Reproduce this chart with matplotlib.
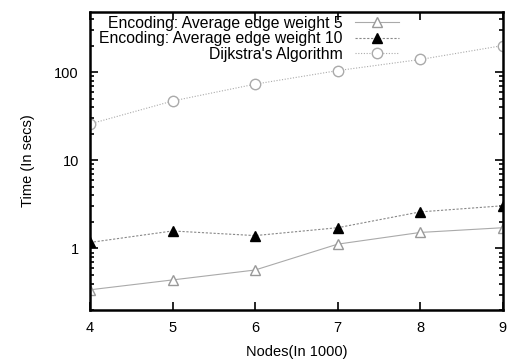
import numpy as np
import matplotlib
matplotlib.use('Agg')
import matplotlib.pyplot as plt
from matplotlib.ticker import LogLocator, NullFormatter, FixedLocator

plt.rcParams['font.family'] = ['Liberation Sans', 'DejaVu Sans']

nodes = [4, 5, 6, 7, 8, 9]
enc_w5 = [0.34, 0.44, 0.57, 1.12, 1.52, 1.72]
enc_w10 = [1.17, 1.58, 1.40, 1.72, 2.60, 3.05]
dijkstra = [25.8, 47.0, 73.0, 104.0, 139.0, 200.0]

labels = ['Encoding: Average edge weight 5',
          'Encoding: Average edge weight 10',
          "Dijkstra's Algorithm"]

fig = plt.figure(figsize=(5.11, 3.64), dpi=100)
ax = fig.add_axes([0.176, 0.148, 0.808, 0.819])

ax.plot(nodes, enc_w5, color='#aaaaaa', lw=0.8, ls='-', marker='^',
        mfc='white', mec='#999999', ms=6.5, label=labels[0])
ax.plot(nodes, enc_w10, color='#888888', lw=0.8, ls=(0, (2, 1.5)), marker='^',
        mfc='black', mec='black', ms=6.5, label=labels[1])
ax.plot(nodes, dijkstra, color='#aaaaaa', lw=0.8, ls=(0, (1, 1.5)), marker='o',
        mfc='white', mec='#aaaaaa', ms=7.5, label=labels[2])

ax.set_yscale('log')
ax.set_xlim(4, 9)
ax.set_ylim(0.2, 480)
ax.yaxis.set_major_locator(FixedLocator([1, 10, 100]))
ax.set_yticklabels(['1', '10', '100'])
ax.yaxis.set_minor_locator(LogLocator(base=10, subs=np.arange(2, 10)))
ax.yaxis.set_minor_formatter(NullFormatter())
ax.set_xticks(nodes)

ax.tick_params(which='both', direction='in', top=True, right=True, width=1.2)
ax.tick_params(which='major', length=6, labelsize=10.5, pad=8)
ax.tick_params(which='minor', length=3)
for s in ax.spines.values():
    s.set_linewidth(1.8)

ax.set_xlabel('Nodes(In 1000)', fontsize=10.5, labelpad=7)
ax.set_ylabel('Time (In secs)', fontsize=10.5, labelpad=14)

leg = ax.legend(loc='upper left', bbox_to_anchor=(0.012, 1.0), frameon=False,
                markerfirst=False, fontsize=11.3, handlelength=2.8,
                labelspacing=0.02, borderaxespad=0.05, borderpad=0.2,
                handletextpad=0.8)

fig.savefig('out.png', dpi=100)
